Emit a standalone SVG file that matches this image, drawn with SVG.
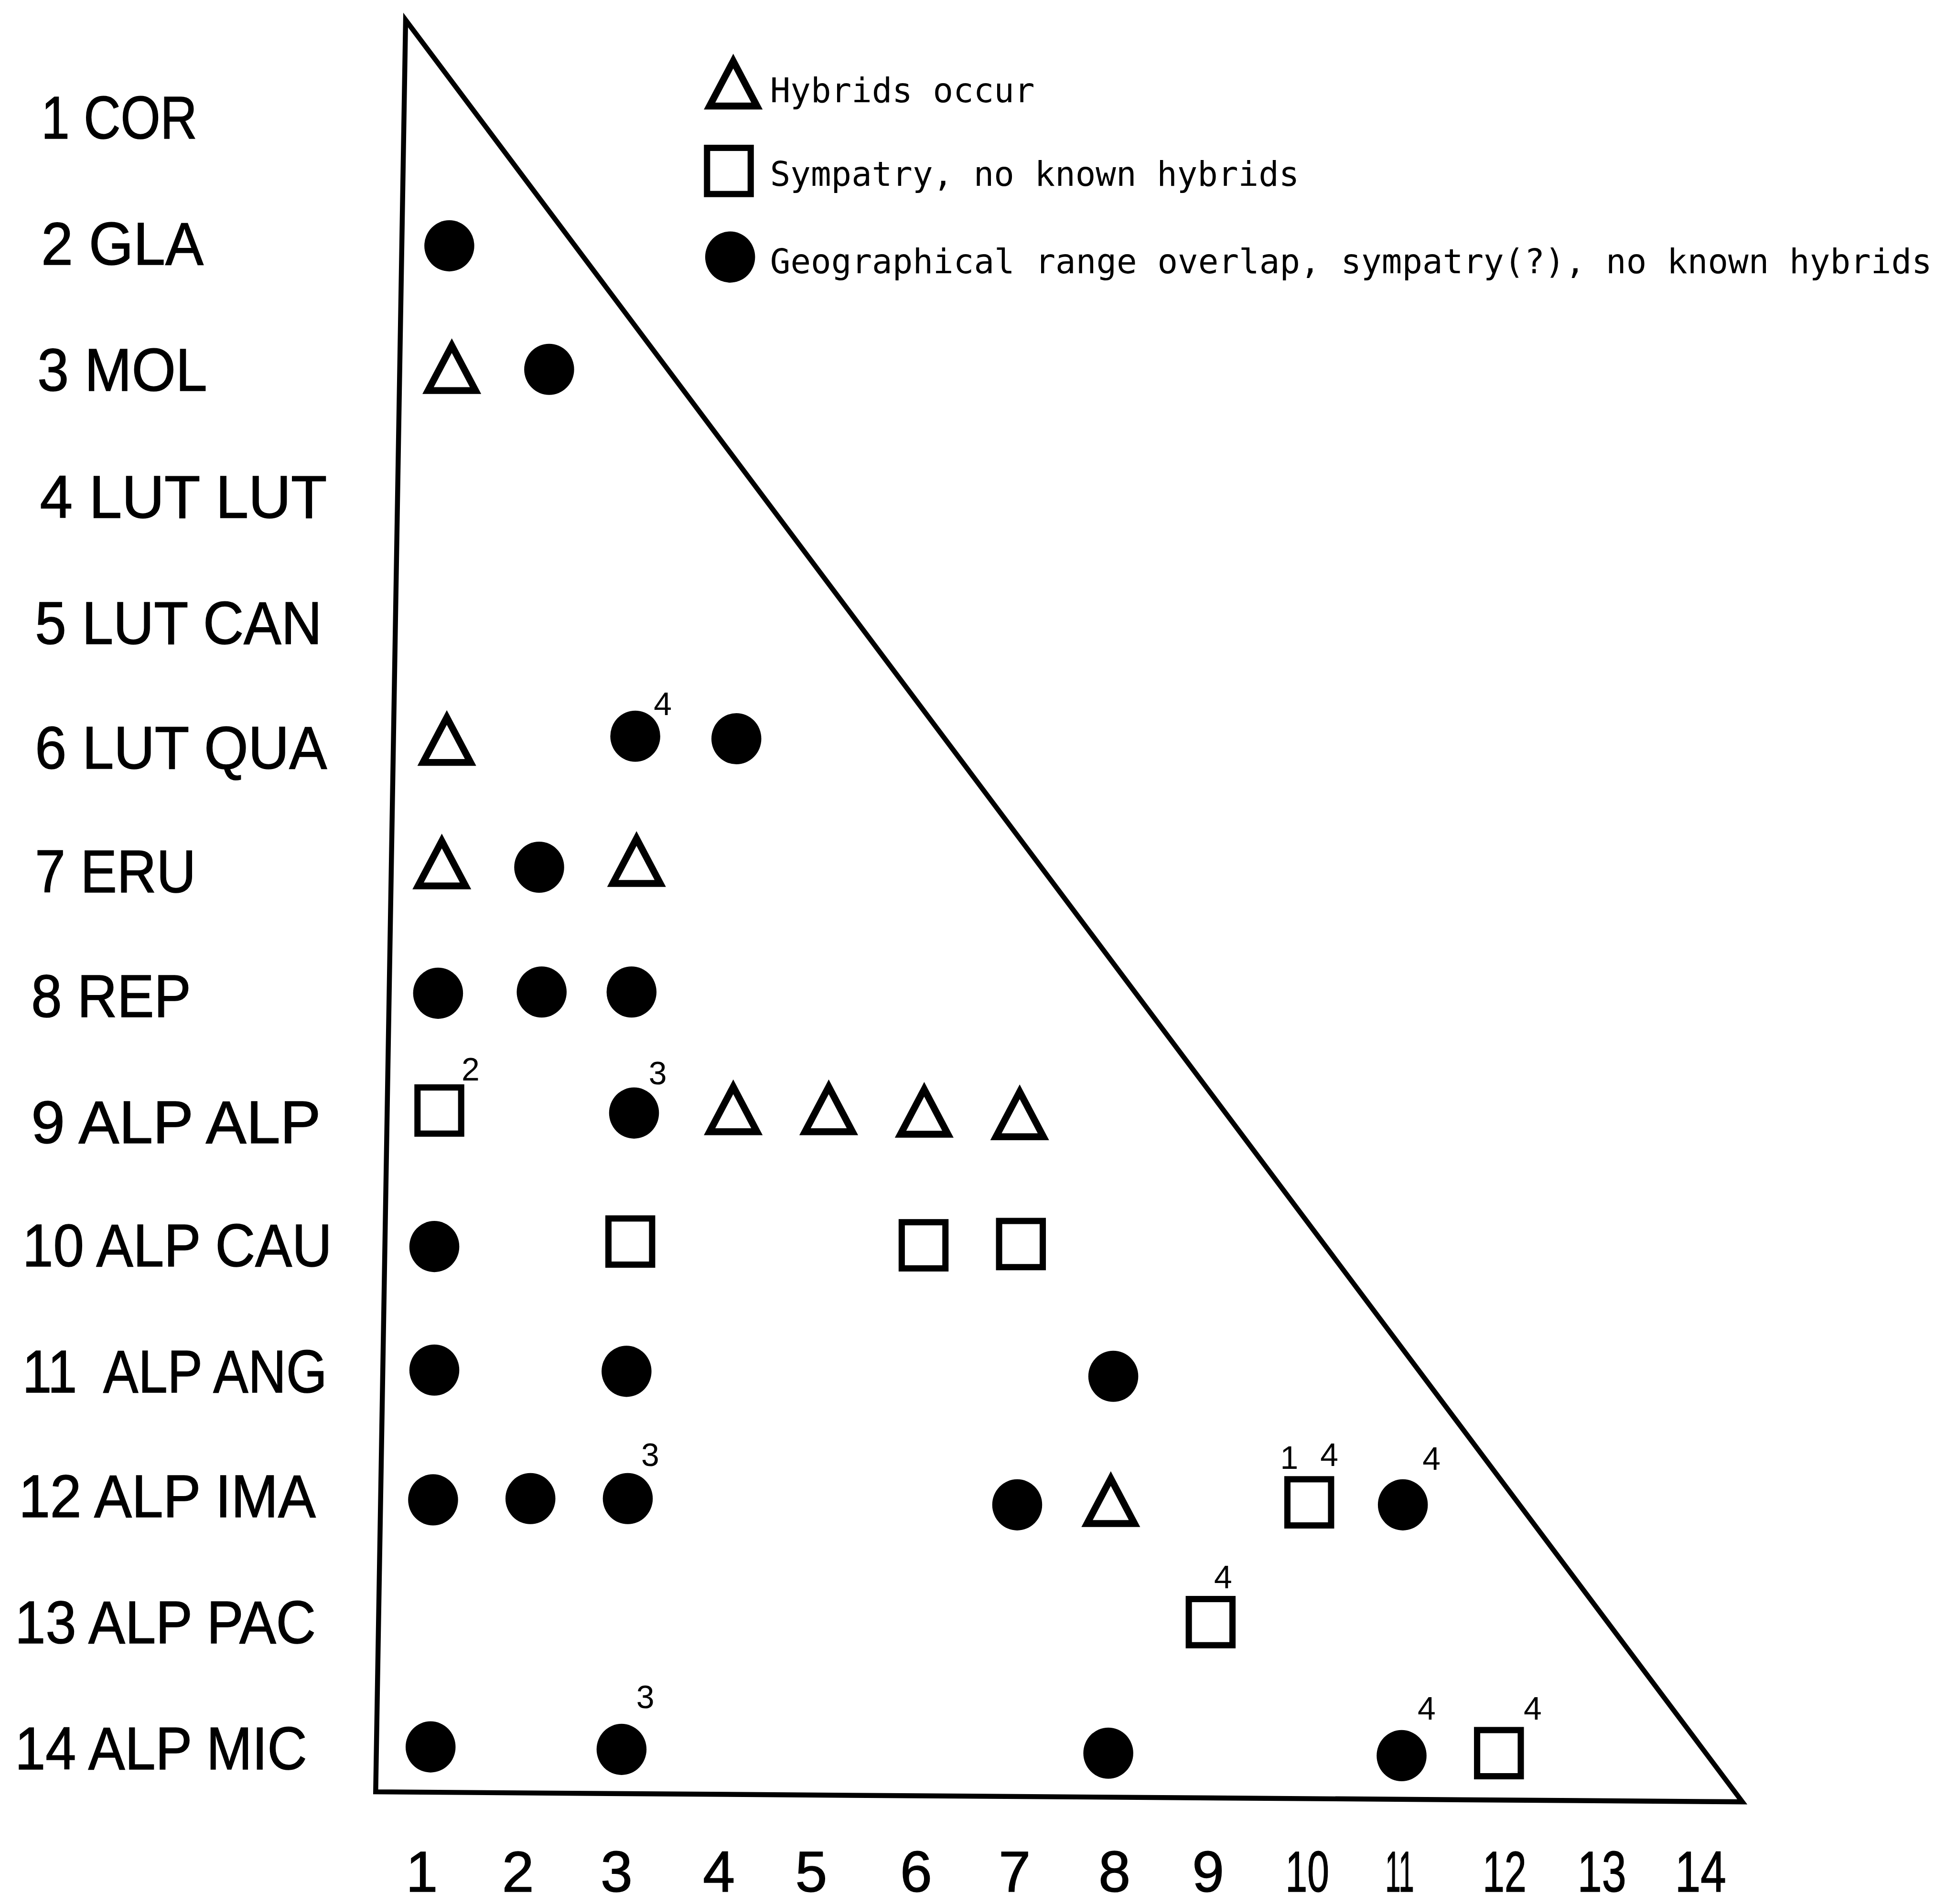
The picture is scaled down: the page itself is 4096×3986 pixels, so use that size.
<svg xmlns="http://www.w3.org/2000/svg" xmlns:xlink="http://www.w3.org/1999/xlink" width="4096" height="3986" viewBox="0 0 4096 3986">
<style>
.lbl{font-family:"Liberation Sans",Arial,sans-serif;font-size:48px;fill:#000;stroke:#000;stroke-width:0.6}
.num{font-family:"Liberation Sans",Arial,sans-serif;font-size:46px;fill:#000;stroke:#000;stroke-width:0.6;text-anchor:middle}
.leg{font-family:"DejaVu Sans Mono","Liberation Mono",monospace;font-size:27.2px;fill:#000}
.sup{font-family:"Liberation Sans",Arial,sans-serif;font-size:26px;fill:#000;text-anchor:middle}
.tri{fill:none;stroke:#000;stroke-width:5.5;stroke-linejoin:miter}
.sq{fill:none;stroke:#000;stroke-width:5}
.dot{fill:#000}
.frame{fill:none;stroke:#000;stroke-width:4;stroke-linejoin:miter}
</style>
<defs>
<path id="T" class="tri" d="M0,-18 L-19,18 L19,18 Z"/>
<rect id="S" class="sq" x="-17.5" y="-18.5" width="35" height="37"/>
<ellipse id="C" class="dot" cx="0" cy="0" rx="20" ry="20.5"/>
</defs>
<rect x="0" y="0" width="4096" height="3986" fill="#fff"/>
<g transform="scale(2.61224)">
<g id="frame">
<polygon class="frame" points="325,16 301,1436 1396,1444"/>
</g>
<g id="connectors"></g>
<g id="legend">
<g id="legend-hybrids">
<use xlink:href="#T" href="#T" x="587.5" y="67"/>
<text class="leg" x="617" y="82" textLength="212" lengthAdjust="spacingAndGlyphs">Hybrids occur</text>
</g>
<g id="legend-sympatry">
<use xlink:href="#S" href="#S" x="584" y="137"/>
<text class="leg" x="617" y="149" textLength="424" lengthAdjust="spacingAndGlyphs">Sympatry, no known hybrids</text>
</g>
<g id="legend-overlap">
<use xlink:href="#C" href="#C" x="585" y="206"/>
<text class="leg" x="617" y="219" textLength="931" lengthAdjust="spacingAndGlyphs">Geographical range overlap, sympatry(?), no known hybrids</text>
</g>
</g>
<g id="row-labels">
<text id="r1" class="lbl" x="33" y="111" textLength="125" lengthAdjust="spacingAndGlyphs">1 COR</text>
<text id="r2" class="lbl" x="33" y="212" textLength="130" lengthAdjust="spacingAndGlyphs">2 GLA</text>
<text id="r3" class="lbl" x="30" y="313" textLength="136" lengthAdjust="spacingAndGlyphs">3 MOL</text>
<text id="r4" class="lbl" x="32" y="415" textLength="230" lengthAdjust="spacingAndGlyphs">4 LUT LUT</text>
<text id="r5" class="lbl" x="28" y="516" textLength="230" lengthAdjust="spacingAndGlyphs">5 LUT CAN</text>
<text id="r6" class="lbl" x="28" y="616" textLength="234" lengthAdjust="spacingAndGlyphs">6 LUT QUA</text>
<text id="r7" class="lbl" x="28" y="715" textLength="129" lengthAdjust="spacingAndGlyphs">7 ERU</text>
<text id="r8" class="lbl" x="25" y="815" textLength="128" lengthAdjust="spacingAndGlyphs">8 REP</text>
<text id="r9" class="lbl" x="25" y="916" textLength="232" lengthAdjust="spacingAndGlyphs">9 ALP ALP</text>
<text id="r10" class="lbl" x="18" y="1015" textLength="248" lengthAdjust="spacingAndGlyphs">10 ALP CAU</text>
<text id="r11" class="lbl" x="18" y="1116" textLength="244" lengthAdjust="spacingAndGlyphs" xml:space="preserve">11  ALP ANG</text>
<text id="r12" class="lbl" x="15" y="1216" textLength="238" lengthAdjust="spacingAndGlyphs">12 ALP IMA</text>
<text id="r13" class="lbl" x="12" y="1317" textLength="241" lengthAdjust="spacingAndGlyphs">13 ALP PAC</text>
<text id="r14" class="lbl" x="12" y="1418" textLength="234" lengthAdjust="spacingAndGlyphs">14 ALP MIC</text>
</g>
<g id="col-labels">
<text class="num" x="338" y="1516">1</text>
<text class="num" x="415" y="1516">2</text>
<text class="num" x="494" y="1516">3</text>
<text class="num" x="576" y="1516">4</text>
<text class="num" x="650" y="1516">5</text>
<text class="num" x="734" y="1516">6</text>
<text class="num" x="813" y="1516">7</text>
<text class="num" x="893" y="1516">8</text>
<text class="num" x="968" y="1516">9</text>
<text class="num" x="1030" y="1516" style="text-anchor:start" textLength="35" lengthAdjust="spacingAndGlyphs">10</text>
<text class="num" x="1110" y="1516" style="text-anchor:start" textLength="23" lengthAdjust="spacingAndGlyphs">11</text>
<text class="num" x="1188" y="1516" style="text-anchor:start" textLength="35" lengthAdjust="spacingAndGlyphs">12</text>
<text class="num" x="1264" y="1516" style="text-anchor:start" textLength="39" lengthAdjust="spacingAndGlyphs">13</text>
<text class="num" x="1342" y="1516" style="text-anchor:start" textLength="41" lengthAdjust="spacingAndGlyphs">14</text>
</g>
<g id="row2"><use href="#C" x="360" y="197"/></g>
<g id="row3"><use href="#T" x="362" y="295"/><use href="#C" x="440" y="296"/></g>
<g id="row6">
<use href="#T" x="358" y="593"/>
<use href="#C" x="509" y="590"/><text class="sup" x="531" y="573">4</text>
<use href="#C" x="590" y="592"/>
</g>
<g id="row7"><use href="#T" x="354" y="692"/><use href="#C" x="432" y="695"/><use href="#T" x="510" y="690"/></g>
<g id="row8"><use href="#C" x="351" y="796"/><use href="#C" x="434" y="795"/><use href="#C" x="506" y="795"/></g>
<g id="row9">
<use href="#S" x="352" y="890"/><text class="sup" x="377" y="866">2</text>
<use href="#C" x="508" y="892"/><text class="sup" x="527" y="869">3</text>
<use href="#T" x="587.5" y="889"/>
<use href="#T" x="664" y="889"/>
<use href="#T" x="740.5" y="891"/>
<use href="#T" x="817" y="893"/>
</g>
<g id="row10"><use href="#C" x="348" y="999"/><use href="#S" x="505" y="995"/><use href="#S" x="740" y="998"/><use href="#S" x="818" y="997"/></g>
<g id="row11"><use href="#C" x="348" y="1098"/><use href="#C" x="502" y="1099"/><use href="#C" x="892" y="1103"/></g>
<g id="row12">
<use href="#C" x="347" y="1202"/>
<use href="#C" x="425" y="1201"/>
<use href="#C" x="503" y="1201"/><text class="sup" x="521" y="1175">3</text>
<use href="#C" x="815" y="1206"/>
<use href="#T" x="890" y="1203"/>
<use href="#S" x="1049" y="1204"/><text class="sup" x="1033" y="1177">1</text><text class="sup" x="1065" y="1175">4</text>
<use href="#C" x="1124" y="1206"/><text class="sup" x="1147" y="1178">4</text>
</g>
<g id="row13"><use href="#S" x="970" y="1300"/><text class="sup" x="980" y="1273">4</text></g>
<g id="row14">
<use href="#C" x="345" y="1400"/>
<use href="#C" x="498" y="1402"/><text class="sup" x="517" y="1369">3</text>
<use href="#C" x="888" y="1405"/>
<use href="#C" x="1123" y="1407"/><text class="sup" x="1143" y="1378">4</text>
<use href="#S" x="1201" y="1405"/><text class="sup" x="1228" y="1378">4</text>
</g>
</g>
</svg>
